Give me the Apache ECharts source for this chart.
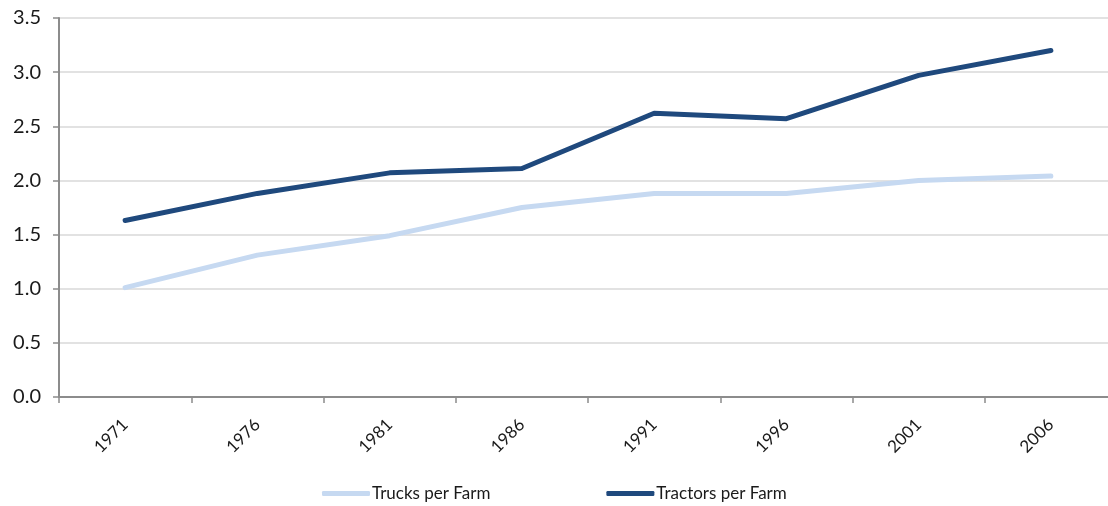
<!DOCTYPE html>
<html>
<head>
<meta charset="utf-8">
<script src="https://cdn.jsdelivr.net/npm/echarts@6/dist/echarts.min.js"></script>
<style>
  html, body { margin: 0; padding: 0; background: #fff; }
  #chart { width: 1108px; height: 506px; }
</style>
</head>
<body>
<div id="chart"></div>
<script>
// Farm vehicles per farm, census years
const years = ['1971', '1976', '1981', '1986', '1991', '1996', '2001', '2006'];
const trucksPerFarm = [1.01, 1.31, 1.49, 1.75, 1.88, 1.88, 2.00, 2.04];
const tractorsPerFarm = [1.63, 1.88, 2.07, 2.11, 2.62, 2.57, 2.97, 3.20];
const yTicks = { min: 0, max: 3.5, interval: 0.5 };

const fontFamily = 'Lato, "Open Sans", sans-serif';
const chart = echarts.init(document.getElementById('chart'), null, { renderer: 'canvas' });

chart.setOption({
  animation: false,
  textStyle: { fontFamily: fontFamily },
  // plot area runs slightly past the right edge of the canvas
  grid: {
    left: 59, width: 1058, top: 18, height: 379,
    containLabel: false, outerBoundsMode: 'none'
  },
  legend: {
    top: 485,
    left: 322,
    padding: 0,
    itemGap: 116,
    itemWidth: 48,
    itemHeight: 5,
    icon: 'roundRect',
    textStyle: { fontSize: 17, color: '#1a1a1a', fontFamily: fontFamily, padding: [0, 0, 0, -3] },
    data: ['Trucks per Farm', 'Tractors per Farm']
  },
  xAxis: {
    type: 'category',
    data: years,
    boundaryGap: true,
    axisLine: { lineStyle: { color: '#8c8c8c', width: 2 } },
    axisTick: { show: true, length: 6, lineStyle: { color: '#8c8c8c', width: 1.5 } },
    axisLabel: { rotate: 45, fontSize: 17, color: '#1a1a1a', margin: 25, fontFamily: fontFamily },
    splitLine: { show: false }
  },
  yAxis: {
    type: 'value',
    min: yTicks.min,
    max: yTicks.max,
    interval: yTicks.interval,
    axisLine: { show: true, lineStyle: { color: '#8c8c8c', width: 2 } },
    axisTick: { show: true, length: 6, lineStyle: { color: '#8c8c8c', width: 1.5 } },
    axisLabel: {
      fontSize: 20, color: '#1a1a1a', margin: 18, fontFamily: fontFamily,
      formatter: v => v.toFixed(1)
    },
    splitLine: { lineStyle: { color: '#d9d9d9', width: 1.5 } }
  },
  series: [
    {
      name: 'Trucks per Farm',
      type: 'line',
      data: trucksPerFarm,
      symbol: 'none',
      lineStyle: { color: '#c6d9f1', width: 5, cap: 'round', join: 'round' },
      itemStyle: { color: '#c6d9f1' }
    },
    {
      name: 'Tractors per Farm',
      type: 'line',
      data: tractorsPerFarm,
      symbol: 'none',
      lineStyle: { color: '#1f497d', width: 5, cap: 'round', join: 'round' },
      itemStyle: { color: '#1f497d' }
    }
  ]
});
</script>
</body>
</html>
